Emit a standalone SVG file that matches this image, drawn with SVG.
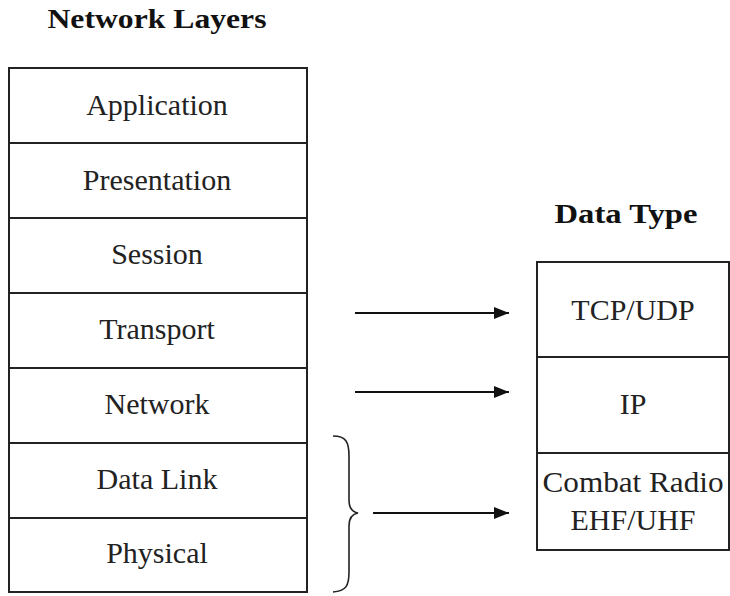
<svg xmlns="http://www.w3.org/2000/svg" width="730" height="596" viewBox="0 0 730 596">
  <defs>
    <style>
      .box { fill: #fff; stroke: #222; stroke-width: 2; }
      .rule { stroke: #222; stroke-width: 2; }
      .lbl { font-family: "Liberation Serif", "Times New Roman", serif; font-size: 30px; fill: #222; text-anchor: middle; }
      .title { font-family: "Liberation Serif", "Times New Roman", serif; font-size: 27px; font-weight: bold; fill: #111; text-anchor: middle; }
      .conn { stroke: #111; stroke-width: 2; fill: none; }
      .brace { stroke: #222; stroke-width: 1.6; fill: none; }
    </style>
    <marker id="arrow" viewBox="0 0 15 12" refX="15" refY="6" markerWidth="15" markerHeight="12" markerUnits="userSpaceOnUse" orient="auto">
      <path d="M0,0 L15,6 L0,12 z" fill="#111"/>
    </marker>
  </defs>
  <rect width="730" height="596" fill="#fff"/>

  <!-- Titles -->
  <text class="title" x="157" y="28" textLength="219" lengthAdjust="spacingAndGlyphs">Network Layers</text>
  <text class="title" x="626" y="223" textLength="143" lengthAdjust="spacingAndGlyphs">Data Type</text>

  <!-- OSI layer stack -->
  <g id="network-layers">
    <rect class="box" x="9" y="68" width="298" height="524"/>
    <g id="layer-application"><text class="lbl" x="157" y="115">Application</text></g>
    <line class="rule" x1="9" y1="143" x2="307" y2="143"/>
    <g id="layer-presentation"><text class="lbl" x="157" y="190">Presentation</text></g>
    <line class="rule" x1="9" y1="218" x2="307" y2="218"/>
    <g id="layer-session"><text class="lbl" x="157" y="264">Session</text></g>
    <line class="rule" x1="9" y1="293" x2="307" y2="293"/>
    <g id="layer-transport"><text class="lbl" x="157" y="339">Transport</text></g>
    <line class="rule" x1="9" y1="368" x2="307" y2="368"/>
    <g id="layer-network"><text class="lbl" x="157" y="414">Network</text></g>
    <line class="rule" x1="9" y1="443" x2="307" y2="443"/>
    <g id="layer-datalink"><text class="lbl" x="157" y="489">Data Link</text></g>
    <line class="rule" x1="9" y1="518" x2="307" y2="518"/>
    <g id="layer-physical"><text class="lbl" x="157" y="563">Physical</text></g>
  </g>

  <!-- Data type stack -->
  <g id="data-types">
    <rect class="box" x="537" y="262" width="192" height="288"/>
    <g id="type-tcpudp"><text class="lbl" x="633" y="320">TCP/UDP</text></g>
    <line class="rule" x1="537" y1="357" x2="729" y2="357"/>
    <g id="type-ip"><text class="lbl" x="633" y="414">IP</text></g>
    <line class="rule" x1="537" y1="453" x2="729" y2="453"/>
    <g id="type-radio">
      <text class="lbl" x="633" y="492" textLength="181" lengthAdjust="spacingAndGlyphs">Combat Radio</text>
      <text class="lbl" x="633" y="530">EHF/UHF</text>
    </g>
  </g>

  <!-- Connectors -->
  <g id="connectors">
    <path class="brace" d="M333,436 C346,436 349,442 349,456 L349,500 C349,508 352,512 358,513 C352,514 349,518 349,526 L349,572 C349,586 346,591 333,592"/>
    <line class="conn" x1="355" y1="313" x2="509" y2="313" marker-end="url(#arrow)"/>
    <line class="conn" x1="355" y1="392" x2="509" y2="392" marker-end="url(#arrow)"/>
    <line class="conn" x1="373" y1="513" x2="509" y2="513" marker-end="url(#arrow)"/>
  </g>
</svg>
